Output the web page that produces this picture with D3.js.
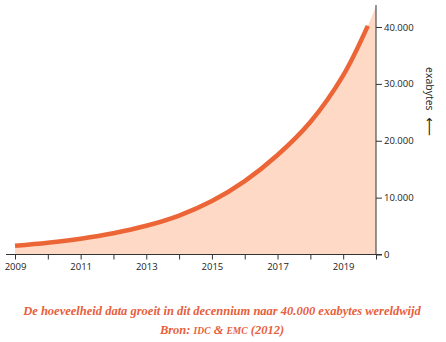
<!DOCTYPE html>
<html><head><meta charset="utf-8">
<script src="https://cdn.jsdelivr.net/npm/d3@7"></script>
<style>body{margin:0;background:#fff;}svg{display:block;}</style>
</head><body>
<svg id="c" width="446" height="342"></svg>
<script>
const years = [2009,2010,2011,2012,2013,2014,2015,2016,2017,2018,2019,2019.75];
const values = [1540,2070,2780,3740,5050,6850,9400,12900,17500,23300,31500,40200];
const fillYears = [2019.75, 2020];
const fillValues = [40200, 43600];
const xTicks = [2009,2010,2011,2012,2013,2014,2015,2016,2017,2018,2019,2020];
const xTickLabels = ["2009","","2011","","2013","","2015","","2017","","2019",""];
const yTicks = [0,10000,20000,30000,40000];
const yTickLabels = ["0","10.000","20.000","30.000","40.000"];
const caption1 = "De hoeveelheid data groeit in dit decennium naar 40.000 exabytes wereldwijd";

const svg = d3.select("#c");
const x = d3.scaleLinear().domain([2009,2020]).range([15,376]);
const y = d3.scaleLinear().domain([0,40000]).range([254.5,27]);

const lineData = years.map((d,i)=>({x:d,y:values[i]}));
const areaData = lineData.concat(fillYears.slice(1).map((d,i)=>({x:d,y:fillValues[i+1]})));

svg.append("path").datum(areaData)
  .attr("d", d3.area().x(d=>x(d.x)).y0(y(0)).y1(d=>y(d.y)).curve(d3.curveCatmullRom))
  .attr("fill","#fdd9c6");

svg.append("path").datum(lineData)
  .attr("d", d3.line().x(d=>x(d.x)).y(d=>y(d.y)).curve(d3.curveCatmullRom))
  .attr("fill","none").attr("stroke","#ec6537").attr("stroke-width",4.5).attr("stroke-linecap","butt");

const axisColor = "#333";
const xAxis = svg.append("g").attr("transform",`translate(0,${y(0)})`)
  .call(d3.axisBottom(x).tickValues(xTicks).tickFormat((d,i)=>xTickLabels[i]).tickSize(5).tickSizeOuter(0));
xAxis.select(".domain").attr("d",`M6,0H382`);
xAxis.selectAll("line").attr("stroke",axisColor);
xAxis.selectAll(".domain").attr("stroke",axisColor);
xAxis.selectAll("text").attr("font-family","'Open Sans', sans-serif").attr("font-size",9.5).attr("fill","#222").attr("dy","0.9em").attr("y",7);

const yAxis = svg.append("g").attr("transform",`translate(${x(2020)},0)`)
  .call(d3.axisRight(y).tickValues(yTicks).tickFormat((d,i)=>yTickLabels[i]).tickSize(6).tickSizeOuter(0));
yAxis.select(".domain").attr("d",`M0,5V${y(0)}`).attr("stroke",axisColor);
yAxis.selectAll("line").attr("stroke",axisColor);
yAxis.selectAll("text").attr("font-family","'Open Sans', sans-serif").attr("font-size",9.5).attr("fill","#222").attr("x",8);

const yl = svg.append("text").attr("transform","translate(429,67) rotate(90)")
  .attr("text-anchor","start").attr("font-family","'Open Sans', sans-serif").attr("font-size",10.5).attr("fill","#222")
  .attr("dominant-baseline","middle");
yl.append("tspan").text("exabytes ");
yl.append("tspan").attr("font-family","'DejaVu Sans', sans-serif").attr("font-size",13).attr("dx",4).text("\u27F5");

svg.append("text").attr("x",222).attr("y",315).attr("text-anchor","middle")
  .attr("font-family","'Liberation Serif', serif").attr("font-style","italic").attr("font-weight","bold")
  .attr("font-size",12.5).attr("fill","#e8603c").text(caption1);
const t2 = svg.append("text").attr("x",222).attr("y",334).attr("text-anchor","middle")
  .attr("font-family","'Liberation Serif', serif").attr("font-style","italic").attr("font-weight","bold")
  .attr("font-size",12.5).attr("fill","#e8603c");
t2.append("tspan").text("Bron: ");
t2.append("tspan").attr("font-size",9.5).text("IDC");
t2.append("tspan").text(" & ");
t2.append("tspan").attr("font-size",9.5).text("EMC");
t2.append("tspan").text(" (2012)");
</script>
</body></html>
